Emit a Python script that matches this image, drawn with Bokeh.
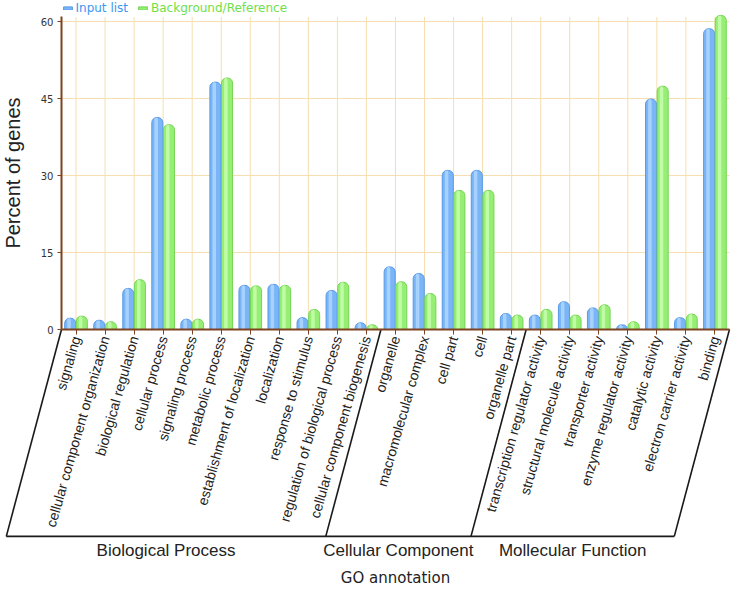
import math
from bokeh.plotting import figure
from bokeh.models import (ColumnDataSource, Range1d, LinearAxis, FixedTicker,
                          Legend, LegendItem)
from bokeh.transform import dodge
from bokeh.core.properties import value
from bokeh.embed import file_html
from bokeh.resources import INLINE

# ---------------- data ----------------
categories = [
    "signaling", "cellular component organization", "biological regulation",
    "cellular process", "signaling process", "metabolic process",
    "establishment of localization", "localization", "response to stimulus",
    "regulation of biological process", "cellular component biogenesis",
    "organelle", "macromolecular complex", "cell part", "cell", "organelle part",
    "transcription regulator activity", "structural molecule activity",
    "transporter activity", "enzyme regulator activity", "catalytic activity",
    "electron carrier activity", "binding",
]
groups = ["Biological Process", "Cellular Component", "Mollecular Function"]
group_sizes = [11, 5, 7]
input_list = [2.2, 1.8, 8.0, 41.3, 2.0, 48.2, 8.6, 8.8, 2.3, 7.6, 1.3,
              12.2, 10.9, 31.0, 31.0, 3.1,
              2.8, 5.4, 4.2, 0.9, 44.9, 2.3, 58.6]
background = [2.6, 1.5, 9.7, 39.9, 2.0, 49.0, 8.5, 8.6, 3.9, 9.2, 0.9,
              9.3, 7.0, 27.1, 27.1, 2.8,
              3.9, 2.8, 4.8, 1.5, 47.4, 3.0, 61.2]
y_ticks = [0, 15, 30, 45, 60]
series_names = ["Input list", "Background/Reference"]

# ---------------- styles ----------------
BROWN = "#7e4320"
GRID = "#f6deaf"
BLUE, BLUE_LINE, BLUE_HI = "#7ab5f8", "#5799e6", "#b4d9ff"
GREEN, GREEN_LINE, GREEN_HI = "#96ef74", "#74d453", "#caffb2"
Y_TOP = 60.9
ANGLE = math.radians(74)
BRACKET_Y = -40.3
SLANT = 1.9
GROUP_LABEL_Y = -43.0

n = len(categories)
idx = list(range(n))
src = ColumnDataSource(dict(idx=idx, cat=categories, input=input_list, bg=background))

p = figure(width=731, height=590, output_backend="svg", toolbar_location=None,
           x_range=Range1d(-2.6, 22.57), y_range=Range1d(-50.85, 64.1),
           x_axis_type=None, y_axis_type=None, min_border=0,
           outline_line_color=None, background_fill_color="white")

# grid lines (only inside the chart area)
p.segment(x0=-0.5, x1=n - 0.5, y0=y_ticks, y1=y_ticks, line_color=GRID, line_width=1)
p.segment(x0=idx, x1=idx, y0=0, y1=Y_TOP, line_color=GRID, line_width=1)

# bars
r_in = p.vbar(x=dodge("idx", -0.2), top="input", width=0.38, source=src,
              fill_color=BLUE, line_color=BLUE_LINE, line_width=1,
              border_radius=(5, 5, 0, 0))
p.vbar(x=dodge("idx", -0.24), top="input", width=0.12, source=src,
       fill_color=BLUE_HI, fill_alpha=0.8, line_color=None, border_radius=(2, 2, 0, 0))
r_bg = p.vbar(x=dodge("idx", 0.2), top="bg", width=0.38, source=src,
              fill_color=GREEN, line_color=GREEN_LINE, line_width=1,
              border_radius=(5, 5, 0, 0))
p.vbar(x=dodge("idx", 0.16), top="bg", width=0.12, source=src,
       fill_color=GREEN_HI, fill_alpha=0.8, line_color=None, border_radius=(2, 2, 0, 0))

# group brackets
bounds = [-0.5]
for s in group_sizes:
    bounds.append(bounds[-1] + s)
xs = [[b, b - SLANT] for b in bounds] + [[bounds[0] - SLANT, bounds[-1] - SLANT]]
ys = [[0, BRACKET_Y] for _ in bounds] + [[BRACKET_Y, BRACKET_Y]]
p.multi_line(xs=xs, ys=ys, line_color="#1a1a1a", line_width=1.6)

gx = [(bounds[i] + bounds[i + 1]) / 2 - SLANT for i in range(len(groups))]
p.text(x=gx, y=[GROUP_LABEL_Y] * len(groups), text=groups,
       text_font=value("Liberation Sans"), text_font_size="17px",
       text_color="#222222", text_align="center", text_baseline="middle")

# y axis
yaxis = LinearAxis(fixed_location=-0.5, bounds=(0, Y_TOP),
                   ticker=FixedTicker(ticks=y_ticks, minor_ticks=[]),
                   axis_line_color=BROWN, axis_line_width=2,
                   major_tick_line_color=BROWN, major_tick_out=4, major_tick_in=0,
                   minor_tick_line_color=None,
                   major_label_text_font="DejaVu Sans", major_label_text_font_size="10px",
                   major_label_text_color="#333333", major_label_standoff=4,
                   axis_label="Percent of genes", axis_label_text_font="Liberation Sans",
                   axis_label_text_font_size="20px", axis_label_text_font_style="normal",
                   axis_label_text_color="#222222", axis_label_standoff=14)
p.add_layout(yaxis, "left")

# x axis
xaxis = LinearAxis(fixed_location=0, bounds=(-0.5, n - 0.5),
                   ticker=FixedTicker(ticks=idx, minor_ticks=[]),
                   major_label_overrides={i: c for i, c in zip(idx, categories)},
                   major_label_orientation=ANGLE,
                   axis_line_color=BROWN, axis_line_width=2,
                   major_tick_line_color=BROWN, major_tick_out=5, major_tick_in=0,
                   minor_tick_line_color=None,
                   major_label_text_font="Liberation Sans", major_label_text_font_size="14px",
                   major_label_text_color="#222222", major_label_standoff=2,
                   axis_label="GO annotation", axis_label_text_font="DejaVu Sans",
                   axis_label_text_font_size="15px", axis_label_text_font_style="normal",
                   axis_label_text_color="#222222", axis_label_standoff=35)
p.add_layout(xaxis, "below")

# legends
for r, name, col, vx in [(r_in, series_names[0], "#3c96f0", 61.5),
                         (r_bg, series_names[1], "#6fe04a", 137)]:
    leg = Legend(items=[LegendItem(label=name, renderers=[r])], location=(vx, 575),
                 glyph_width=11, glyph_height=4, label_height=14, label_standoff=3,
                 padding=0, margin=0, spacing=0, border_line_color=None,
                 background_fill_alpha=0, label_text_font="DejaVu Sans",
                 label_text_font_size="12px", label_text_color=col)
    p.add_layout(leg)

open("out.html", "w").write(file_html(p, INLINE))
